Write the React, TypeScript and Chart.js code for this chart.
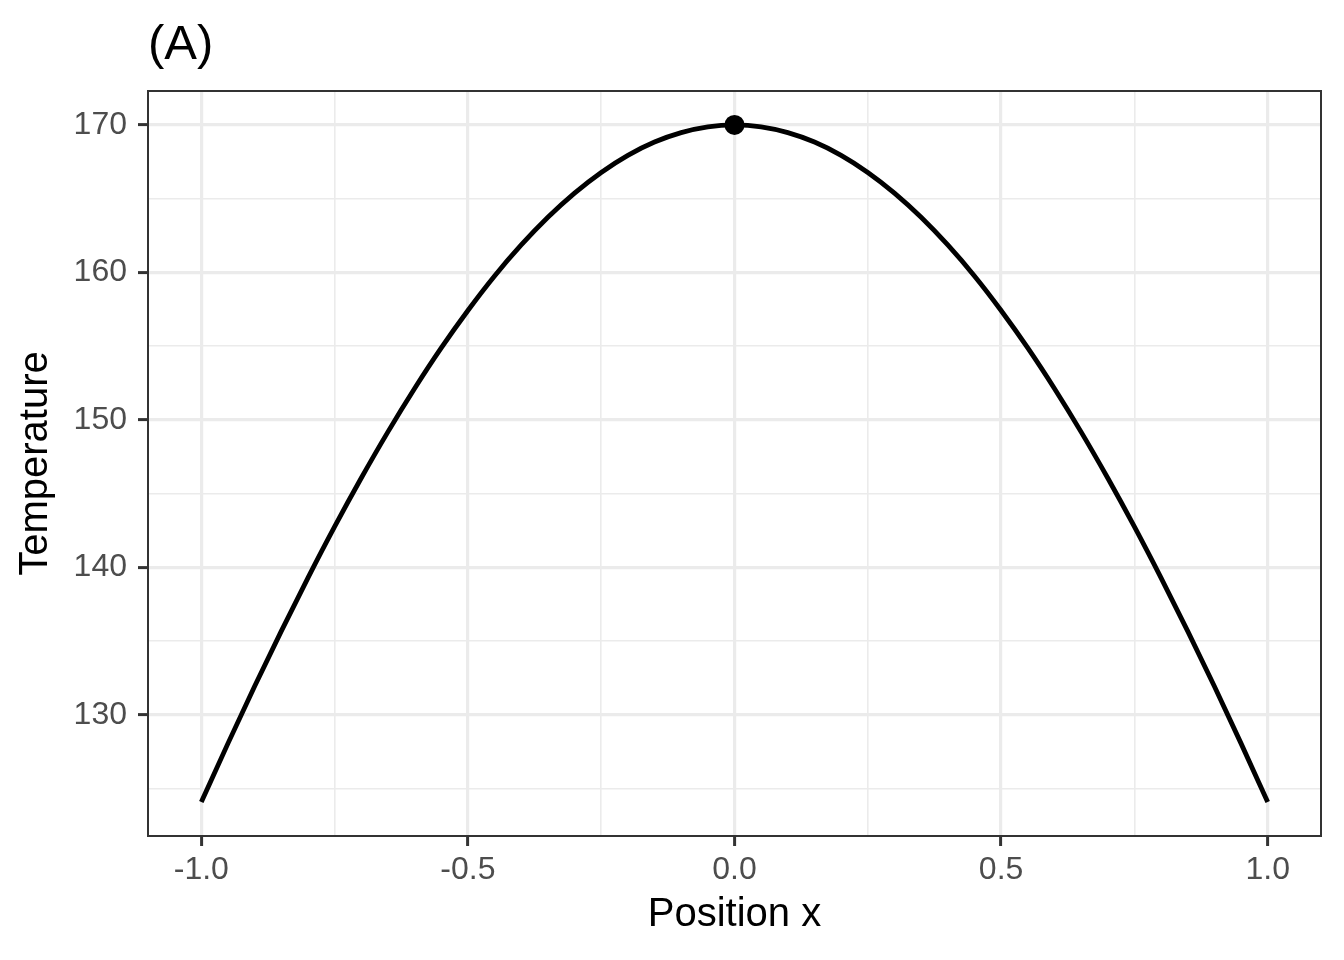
import React, { useEffect, useRef } from "react";
import { Chart, registerables } from "chart.js";

Chart.register(...registerables);

// ---- data ----
const positionX = [
  -1.0, -0.95, -0.9, -0.85, -0.8, -0.75, -0.7, -0.65, -0.6, -0.55, -0.5,
  -0.45, -0.4, -0.35, -0.3, -0.25, -0.2, -0.15, -0.1, -0.05, 0.0,
  0.05, 0.1, 0.15, 0.2, 0.25, 0.3, 0.35, 0.4, 0.45, 0.5,
  0.55, 0.6, 0.65, 0.7, 0.75, 0.8, 0.85, 0.9, 0.95, 1.0,
];
const temperature = [
  124.09, 128.07, 131.94, 135.68, 139.29, 142.76, 146.06, 149.19, 152.13, 154.88, 157.42,
  159.76, 161.86, 163.74, 165.38, 166.78, 167.94, 168.84, 169.48, 169.87, 170.0,
  169.87, 169.48, 168.84, 167.94, 166.78, 165.38, 163.74, 161.86, 159.76, 157.42,
  154.88, 152.13, 149.19, 146.06, 142.76, 139.29, 135.68, 131.94, 128.07, 124.09,
];
const peakX = [0];
const peakTemperature = [170];

const xMajorTicks = [-1, -0.5, 0, 0.5, 1];
const xMinorTicks = [-0.75, -0.25, 0.25, 0.75];
const yMajorTicks = [130, 140, 150, 160, 170];
const yMinorTicks = [125, 135, 145, 155, 165];
const xRange = [-1.1, 1.1];
const yRange = [121.79, 172.3];

const titleText = "(A)";
const xTitle = "Position x";
const yTitle = "Temperature";

const FONT = "'Liberation Sans', Arial, Helvetica, sans-serif";

export default function App() {
  const canvasRef = useRef<HTMLCanvasElement | null>(null);

  useEffect(() => {
    const canvas = canvasRef.current;
    if (!canvas) return;

    const isMajor = (list: number[], v: number) => list.some((m) => Math.abs(m - v) < 1e-9);

    const panelPlugin = {
      id: "panelDecor",
      afterDraw(chart: any) {
        const { ctx, chartArea } = chart;
        ctx.save();
        ctx.strokeStyle = "#333333";
        ctx.lineWidth = 2;
        ctx.strokeRect(
          chartArea.left,
          chartArea.top,
          chartArea.right - chartArea.left,
          chartArea.bottom - chartArea.top
        );
        ctx.fillStyle = "#000000";
        ctx.font = `49px ${FONT}`;
        ctx.textAlign = "left";
        ctx.textBaseline = "alphabetic";
        ctx.fillText(titleText, chartArea.left, 59);
        ctx.restore();
      },
    };

    const chart = new Chart(canvas, {
      type: "line",
      data: {
        datasets: [
          {
            label: "profile",
            data: positionX.map((x, i) => ({ x, y: temperature[i] })),
            borderColor: "#000000",
            borderWidth: 4.8,
            pointRadius: 0,
            fill: false,
            cubicInterpolationMode: "monotone",
            order: 2,
          },
          {
            label: "peak",
            data: peakX.map((x, i) => ({ x, y: peakTemperature[i] })),
            showLine: false,
            pointRadius: 10,
            pointBackgroundColor: "#000000",
            pointBorderWidth: 0,
            borderColor: "#000000",
            order: 1,
          },
        ],
      },
      options: {
        animation: false,
        responsive: false,
        devicePixelRatio: 1,
        layout: { padding: { top: 91, right: 23, bottom: 0, left: 0 } },
        plugins: {
          legend: { display: false },
          tooltip: { enabled: false },
        },
        scales: {
          x: {
            type: "linear",
            min: xRange[0],
            max: xRange[1],
            afterBuildTicks: (s: any) => {
              s.ticks = [...xMajorTicks, ...xMinorTicks]
                .sort((a, b) => a - b)
                .map((v) => ({ value: v }));
            },
            afterFit: (s: any) => {
              s.height = 124;
            },
            border: { display: false },
            grid: {
              color: "#EBEBEB",
              lineWidth: (c: any) => (isMajor(xMajorTicks, c.tick?.value) ? 3.2 : 1.6),
              drawTicks: true,
              tickLength: 10,
              tickWidth: 3,
              tickColor: (c: any) =>
                isMajor(xMajorTicks, c.tick?.value) ? "#333333" : "rgba(0,0,0,0)",
            },
            ticks: {
              autoSkip: false,
              maxRotation: 0,
              minRotation: 0,
              padding: 5,
              color: "#4D4D4D",
              font: { family: FONT, size: 32 },
              callback: (v: any) => (isMajor(xMajorTicks, Number(v)) ? Number(v).toFixed(1) : ""),
            },
            title: {
              display: true,
              text: xTitle,
              color: "#000000",
              font: { family: FONT, size: 40 },
              padding: { top: 0, bottom: 21 },
            },
          },
          y: {
            type: "linear",
            min: yRange[0],
            max: yRange[1],
            afterBuildTicks: (s: any) => {
              s.ticks = [...yMajorTicks, ...yMinorTicks]
                .sort((a, b) => a - b)
                .map((v) => ({ value: v }));
            },
            afterFit: (s: any) => {
              s.width = 148;
            },
            border: { display: false },
            grid: {
              color: "#EBEBEB",
              lineWidth: (c: any) => (isMajor(yMajorTicks, c.tick?.value) ? 3.2 : 1.6),
              drawTicks: true,
              tickLength: 10,
              tickWidth: 3,
              tickColor: (c: any) =>
                isMajor(yMajorTicks, c.tick?.value) ? "#333333" : "rgba(0,0,0,0)",
            },
            ticks: {
              autoSkip: false,
              padding: 11,
              color: "#4D4D4D",
              font: { family: FONT, size: 32 },
              callback: (v: any) => (isMajor(yMajorTicks, Number(v)) ? String(Math.round(Number(v))) : ""),
            },
            title: {
              display: true,
              text: yTitle,
              color: "#000000",
              font: { family: FONT, size: 40 },
              padding: { top: 12, bottom: 0 },
            },
          },
        },
      },
      plugins: [panelPlugin],
    } as any);

    return () => {
      chart.destroy();
    };
  }, []);

  return (
    <div style={{ position: "absolute", left: 0, top: 0, width: 1344, height: 960, background: "#ffffff" }}>
      <canvas ref={canvasRef} width={1344} height={960} style={{ width: 1344, height: 960, display: "block" }} />
    </div>
  );
}
